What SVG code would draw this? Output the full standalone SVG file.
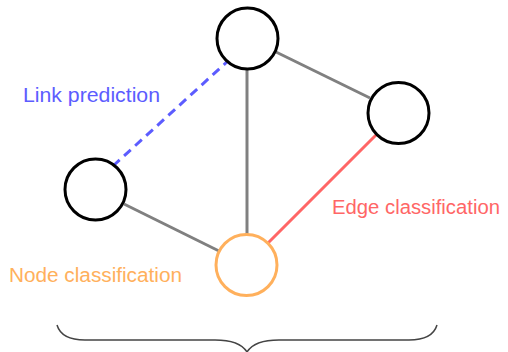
<svg xmlns="http://www.w3.org/2000/svg" width="508" height="352" viewBox="0 0 508 352">
<style>
.node{fill:#fff;stroke:#000;stroke-width:3}
.edge{stroke:#808080;stroke-width:3;fill:none}
.lbl{font-family:"Liberation Sans","DejaVu Sans",sans-serif;font-size:19.5px}
</style>
<rect width="508" height="352" fill="#fff"/>
<g id="connectors">
<line class="edge" x1="247" y1="70" x2="247" y2="234"/>
<line class="edge" x1="276" y1="52" x2="370" y2="98"/>
<line class="edge" x1="124" y1="204" x2="219" y2="251"/>
<line x1="376" y1="135" x2="268" y2="243" stroke="#ff6666" stroke-width="3"/>
<line x1="113" y1="166" x2="229" y2="60" stroke="#5c5cff" stroke-width="3" stroke-dasharray="9,6"/>
</g>
<g id="node-top"><circle class="node" cx="247.5" cy="38.5" r="30.5"/></g>
<g id="node-right"><circle class="node" cx="398.5" cy="113" r="30.5"/></g>
<g id="node-left"><circle class="node" cx="95.5" cy="189.5" r="30.5"/></g>
<g id="node-bottom"><circle cx="246.5" cy="265" r="30.5" fill="#fff" stroke="#ffb05c" stroke-width="3"/></g>
<g id="labels">
<text class="lbl" x="23" y="102" fill="#5c5cff" textLength="137" lengthAdjust="spacingAndGlyphs">Link prediction</text>
<text class="lbl" x="332" y="214" fill="#ff6666" textLength="168" lengthAdjust="spacingAndGlyphs">Edge classification</text>
<text class="lbl" x="9" y="282" fill="#ffb05c" textLength="173" lengthAdjust="spacingAndGlyphs">Node classification</text>
</g>
<g id="brace">
<path d="M57,325 C60,335 70,340 85,340 L215,340 C232,340 242,344 247,352 C252,344 262,340 279,340 L409,340 C424,340 434,335 437,325" fill="none" stroke="#444" stroke-width="1.5"/>
</g>
</svg>
